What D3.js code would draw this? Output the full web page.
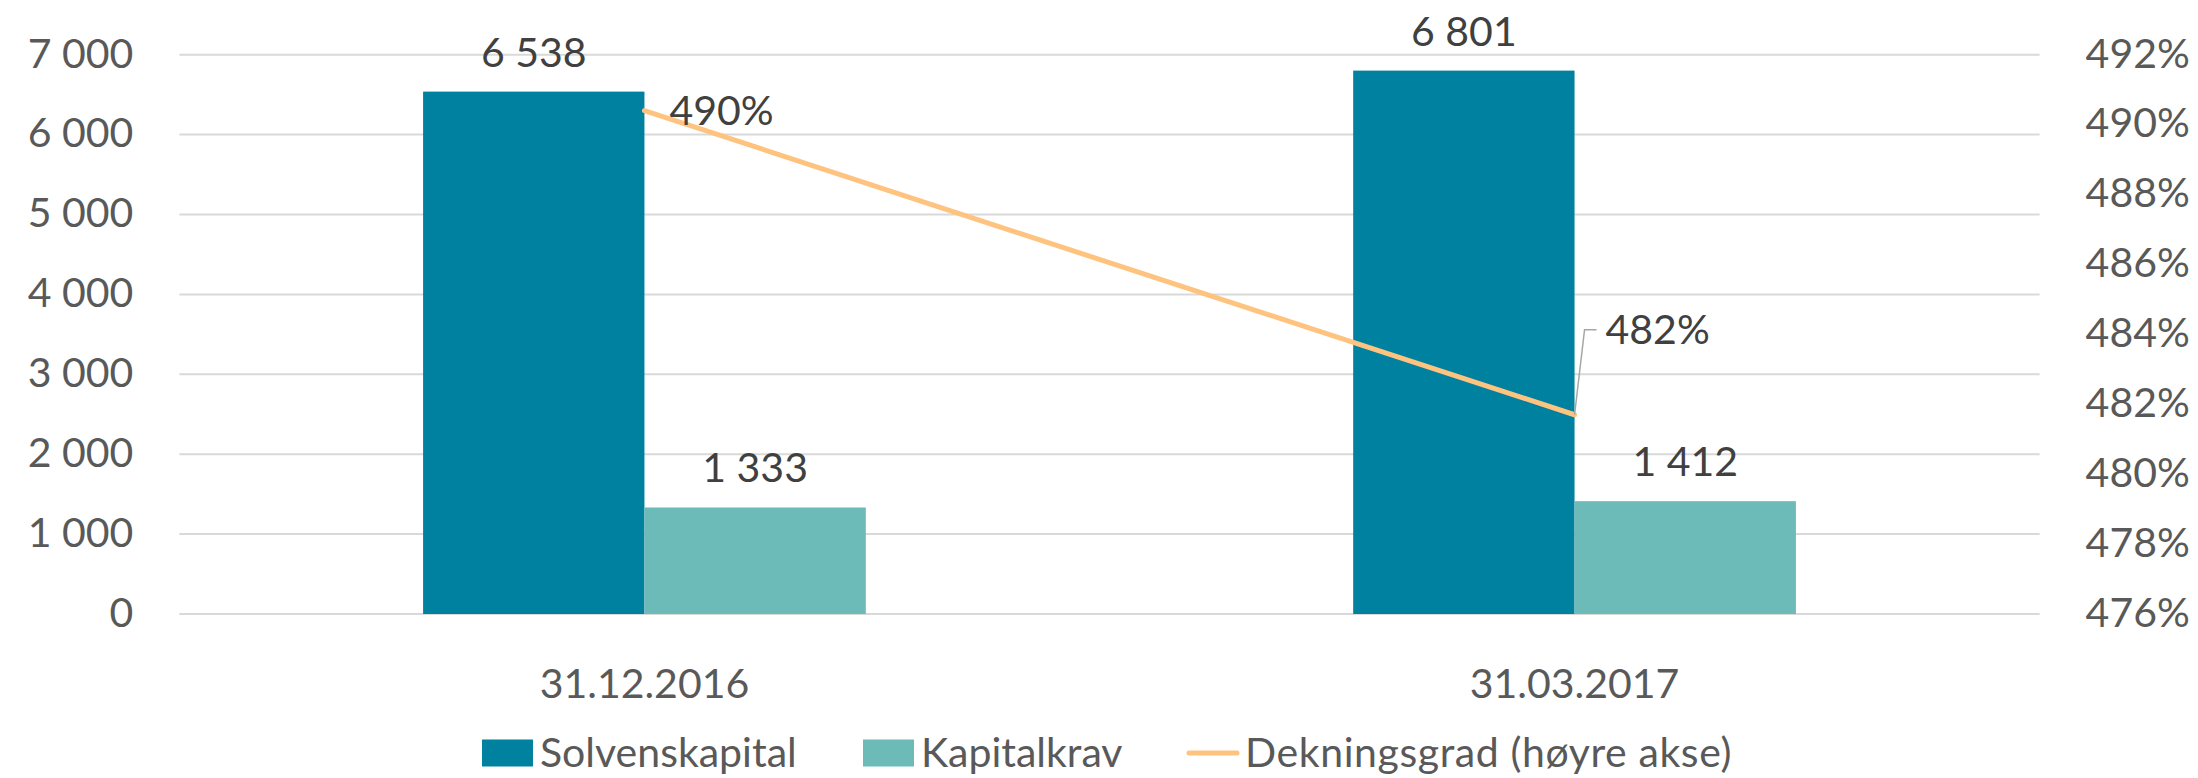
<!DOCTYPE html>
<html>
<head>
<meta charset="utf-8">
<script src="https://cdn.jsdelivr.net/npm/d3@7"></script>
<style>
  html, body { margin: 0; padding: 0; background: #fff; }
  svg { display: block; }
</style>
</head>
<body>
<div id="chart"></div>
<script>
document.addEventListener('DOMContentLoaded', () => {

    // data
    const categories = ["31.12.2016", "31.03.2017"];
    const solvenskapital = [6538, 6801];
    const kapitalkrav = [1333, 1412];
    const dekningsgrad = [490.4, 481.7];
    const leftTicks = [0, 1000, 2000, 3000, 4000, 5000, 6000, 7000];
    const rightTicks = [476, 478, 480, 482, 484, 486, 488, 490, 492];
    const seriesNames = ["Solvenskapital", "Kapitalkrav", "Dekningsgrad (høyre akse)"];

    // initialization
    let width = 2198, height = 778;
    let margin = {top: 54.7, right: 158.4, bottom: 164, left: 179.4};
    let colors = ["#0081a0", "#6dbbb8", "#ffc380"];
    let font = "Lato, 'Open Sans', sans-serif";

    const locale = d3.formatLocale({decimal: ",", thousands: "\u00a0", grouping: [3], currency: ["", " kr"]});
    const format = locale.format(",d");
    const pct = d => d3.format(".0f")(d) + "%";

    const x0 = d3.scaleBand()
        .domain(categories)
        .range([margin.left, width - margin.right])
        .paddingInner(0.524)
        .paddingOuter(0.262);
    const x1 = d3.scaleBand()
        .domain([0, 1])
        .range([0, x0.bandwidth()]);
    const y = d3.scaleLinear().domain([0, 7000]).range([height - margin.bottom, margin.top]);
    const y2 = d3.scaleLinear().domain([476, 492]).range([height - margin.bottom, margin.top]);

    const svg = d3.select("#chart")
        .append("svg")
        .attr("width", width)
        .attr("height", height)
        .style("font-family", font);

    // gridlines
    svg.append("g")
        .selectAll("line")
        .data(leftTicks)
        .join("line")
          .attr("x1", margin.left)
          .attr("x2", width - margin.right)
          .attr("y1", d => y(d))
          .attr("y2", d => y(d))
          .attr("stroke", "#d9d9d9")
          .attr("stroke-width", 2);

    // left axis
    const leftAxis = svg.append("g")
        .attr("transform", `translate(${margin.left - 46},0)`)
        .call(d3.axisLeft(y).tickValues(leftTicks).tickFormat(format).tickSize(0).tickPadding(0));
    leftAxis.select(".domain").remove();
    leftAxis.selectAll("text")
        .attr("font-family", font)
        .attr("font-size", 41)
        .attr("fill", "#595959")
        .attr("dy", "0.3em");

    // right axis
    const rightAxis = svg.append("g")
        .attr("transform", `translate(${width - margin.right + 46},0)`)
        .call(d3.axisRight(y2).tickValues(rightTicks).tickFormat(d => d + "%").tickSize(0).tickPadding(0));
    rightAxis.select(".domain").remove();
    rightAxis.selectAll("text")
        .attr("font-family", font)
        .attr("font-size", 41)
        .attr("fill", "#595959")
        .attr("dy", "0.3em");

    // category axis
    const bottomAxis = svg.append("g")
        .attr("transform", `translate(0,${height - margin.bottom + 70})`)
        .call(d3.axisBottom(x0).tickSize(0).tickPadding(0));
    bottomAxis.select(".domain").remove();
    bottomAxis.selectAll("text")
        .attr("font-family", font)
        .attr("font-size", 41)
        .attr("fill", "#595959")
        .attr("dy", "0.35em");

    // bars
    const bars = [solvenskapital, kapitalkrav];
    const group = svg.append("g")
        .selectAll("g")
        .data(categories)
        .join("g")
          .attr("transform", d => `translate(${x0(d)},0)`);

    group.selectAll("rect")
        .data((d, i) => bars.map((s, j) => ({s: j, v: s[i]})))
        .join("rect")
          .attr("x", d => x1(d.s))
          .attr("width", x1.bandwidth())
          .attr("y", d => y(d.v))
          .attr("height", d => y(0) - y(d.v))
          .attr("fill", d => colors[d.s]);

    group.selectAll("text")
        .data((d, i) => bars.map((s, j) => ({s: j, v: s[i]})))
        .join("text")
          .attr("x", d => x1(d.s) + x1.bandwidth() / 2)
          .attr("y", d => y(d.v) - 25)
          .attr("text-anchor", "middle")
          .attr("font-size", 41)
          .attr("fill", "#404040")
          .text(d => format(d.v));

    // line
    const cx = c => x0(c) + x0.bandwidth() / 2;
    const line = d3.line()
        .x((d, i) => cx(categories[i]))
        .y(d => y2(d));

    svg.append("path")
        .datum(dekningsgrad)
        .attr("fill", "none")
        .attr("stroke", colors[2])
        .attr("stroke-width", 5)
        .attr("stroke-linecap", "round")
        .attr("d", line);

    // line labels
    const p0 = [cx(categories[0]), y2(dekningsgrad[0])];
    svg.append("text")
        .attr("x", p0[0] + 25)
        .attr("y", p0[1])
        .attr("dy", "0.35em")
        .attr("font-size", 41)
        .attr("fill", "#404040")
        .text(pct(dekningsgrad[0]));

    const p1 = [cx(categories[1]), y2(dekningsgrad[1])];
    svg.append("path")
        .attr("fill", "none")
        .attr("stroke", "#a6a6a6")
        .attr("stroke-width", 1.5)
        .attr("d", `M${p1[0]},${p1[1]}L${p1[0] + 10},${p1[1] - 85}L${p1[0] + 22},${p1[1] - 85}`);
    svg.append("text")
        .attr("x", p1[0] + 31)
        .attr("y", p1[1] - 85)
        .attr("dy", "0.35em")
        .attr("font-size", 41)
        .attr("fill", "#404040")
        .text(pct(dekningsgrad[1]));

    // legend
    const legendX = [482, 863, 1187];
    const legend = svg.append("g")
        .selectAll("g")
        .data(seriesNames)
        .join("g")
          .attr("transform", (d, i) => `translate(${legendX[i]},753)`);

    legend.filter((d, i) => i < 2)
        .append("rect")
          .attr("x", 0)
          .attr("y", -13.5)
          .attr("width", 51)
          .attr("height", 27)
          .attr("fill", (d, i) => colors[i]);

    legend.filter((d, i) => i === 2)
        .append("line")
          .attr("x1", 2)
          .attr("x2", 50)
          .attr("y1", 0)
          .attr("y2", 0)
          .attr("stroke", colors[2])
          .attr("stroke-width", 5)
          .attr("stroke-linecap", "round");

    legend.append("text")
        .attr("x", 58)
        .attr("dy", "0.35em")
        .attr("font-size", 41)
        .attr("letter-spacing", (d, i) => i === 2 ? 0.6 : 0)
        .attr("fill", "#595959")
        .text(d => d);
});
</script>
</body>
</html>
